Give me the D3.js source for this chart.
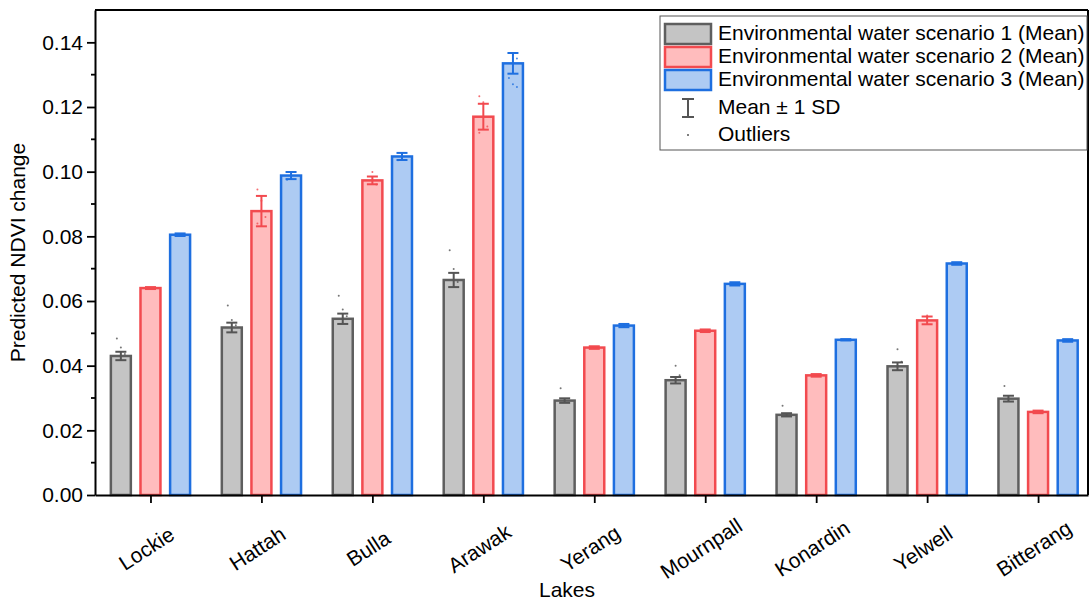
<!DOCTYPE html>
<html>
<head>
<meta charset="utf-8">
<script src="https://d3js.org/d3.v7.min.js"></script>
<style>
  body { margin: 0; background: #fff; font-family: 'Liberation Sans', Arial, sans-serif; }
  svg text { font-family: 'Liberation Sans', Arial, sans-serif; fill: #000; }
</style>
</head>
<body>
<svg id="chart" width="1090" height="604"></svg>
<script>
// lakes and the three scenario means
const lakes = ["Lockie", "Hattah", "Bulla", "Arawak", "Yerang", "Mournpall", "Konardin", "Yelwell", "Bitterang"];
const scenario1 = [0.0430, 0.0518, 0.0545, 0.0665, 0.0292, 0.0355, 0.0248, 0.0398, 0.0298];
const scenario2 = [0.0640, 0.0878, 0.0973, 0.1170, 0.0456, 0.0508, 0.0370, 0.0540, 0.0257];
const scenario3 = [0.0805, 0.0988, 0.1047, 0.1335, 0.0524, 0.0653, 0.0480, 0.0716, 0.0478];
// standard deviations
const sd1 = [0.0013, 0.0015, 0.0016, 0.0022, 0.0007, 0.0010, 0.0005, 0.0012, 0.0009];
const sd2 = [0.0003, 0.0047, 0.0012, 0.0040, 0.0004, 0.0004, 0.0004, 0.0012, 0.0004];
const sd3 = [0.0004, 0.0011, 0.0011, 0.0032, 0.0005, 0.0005, 0.0002, 0.0004, 0.0004];
// outlier points [lake index, value]
const outliers1 = [[0, 0.0484], [0, 0.0456], [0, 0.0436], [1, 0.0586], [1, 0.0541], [1, 0.0525],
  [2, 0.0616], [2, 0.0574], [2, 0.0553], [3, 0.0757], [3, 0.0699], [3, 0.0659],
  [4, 0.0330], [5, 0.0400], [5, 0.0370], [6, 0.0276], [7, 0.0451], [7, 0.0412], [8, 0.0337]];
const outliers2 = [[1, 0.0945], [1, 0.0910], [1, 0.0860], [1, 0.0840], [2, 0.0999], [2, 0.0960],
  [3, 0.1233], [3, 0.1215], [3, 0.1140], [3, 0.1120], [7, 0.0555]];
const outliers3 = [[1, 0.0975], [3, 0.1362], [3, 0.1350], [3, 0.1290], [3, 0.1270], [3, 0.1262], [2, 0.1035]];
const yTicks = [0, 0.02, 0.04, 0.06, 0.08, 0.10, 0.12, 0.14];
const yMinor = [0.01, 0.03, 0.05, 0.07, 0.09, 0.11, 0.13];
const seriesNames = ["Environmental water scenario 1 (Mean)", "Environmental water scenario 2 (Mean)", "Environmental water scenario 3 (Mean)"];

const width = 1090, height = 604;
const margin = { top: 10, right: 2, bottom: 109, left: 95 };
const fontSize = "21px";

const series = [
  { means: scenario1, sd: sd1, pts: outliers1, fill: "#c4c4c4", stroke: "#5e5e5e", err: "#555555" },
  { means: scenario2, sd: sd2, pts: outliers2, fill: "#ffbcbd", stroke: "#f24a4f", err: "#f24a4f" },
  { means: scenario3, sd: sd3, pts: outliers3, fill: "#adcbf3", stroke: "#1e6fe0", err: "#1e6fe0" }
];

const svg = d3.select("#chart");

const x = d3.scaleLinear()
  .domain([0.5, 9.45])
  .range([margin.left, width - margin.right]);

const y = d3.scaleLinear()
  .domain([0, 0.15])
  .range([height - margin.bottom, margin.top]);

const step = x(2) - x(1);
const barW = step * 0.18;
const offsets = [-0.267, 0, 0.267].map(o => o * step);

// bars, error bars, points
series.forEach((s, si) => {
  const g = svg.append("g");
  g.selectAll("rect")
    .data(s.means)
    .enter().append("rect")
    .attr("x", (d, i) => x(i + 1) + offsets[si] - barW / 2)
    .attr("y", d => y(d))
    .attr("width", barW)
    .attr("height", d => y(0) - y(d))
    .attr("fill", s.fill)
    .attr("stroke", s.stroke)
    .attr("stroke-width", 2.5);

  s.means.forEach((m, i) => {
    const cx = x(i + 1) + offsets[si];
    const lo = y(m - s.sd[i]), hi = y(m + s.sd[i]);
    g.append("line").attr("x1", cx).attr("x2", cx).attr("y1", lo).attr("y2", hi)
      .attr("stroke", s.err).attr("stroke-width", 2);
    [lo, hi].forEach(v => {
      g.append("line").attr("x1", cx - 5.5).attr("x2", cx + 5.5).attr("y1", v).attr("y2", v)
        .attr("stroke", s.err).attr("stroke-width", 2);
    });
  });

  g.selectAll("circle")
    .data(s.pts)
    .enter().append("circle")
    .attr("cx", (d, k) => x(d[0] + 1) + offsets[si] + ((k % 3) - 1) * 4)
    .attr("cy", d => y(d[1]))
    .attr("r", 1)
    .attr("fill", s.err)
    .attr("opacity", 0.8);
});

// y axis
const yAxis = svg.append("g")
  .attr("transform", `translate(${margin.left},0)`)
  .call(d3.axisLeft(y).tickValues(yTicks).tickFormat(d3.format(".2f")).tickSize(8).tickSizeOuter(0).tickPadding(4));
yAxis.select(".domain").attr("stroke-width", 2);
yAxis.selectAll(".tick line").attr("stroke-width", 1.8);
yAxis.selectAll("text").style("font-size", fontSize);

svg.append("g")
  .attr("transform", `translate(${margin.left},0)`)
  .selectAll("line")
  .data(yMinor)
  .enter().append("line")
  .attr("x1", -4).attr("x2", 0)
  .attr("y1", d => y(d)).attr("y2", d => y(d))
  .attr("stroke", "#000").attr("stroke-width", 1.8);

// x axis
const xAxis = svg.append("g")
  .attr("transform", `translate(0,${y(0)})`)
  .call(d3.axisBottom(x).tickValues(d3.range(1, 10)).tickFormat("").tickSize(8).tickSizeOuter(0));
xAxis.select(".domain").attr("stroke-width", 2);
xAxis.selectAll(".tick line").attr("stroke-width", 1.8);

svg.append("g")
  .selectAll("text")
  .data(lakes)
  .enter().append("text")
  .attr("transform", (d, i) => `translate(${x(i + 1) - 3},${y(0) + 55}) rotate(-33)`)
  .attr("text-anchor", "middle")
  .attr("dominant-baseline", "middle")
  .style("font-size", fontSize)
  .text(d => d);

// frame top and right
svg.append("line")
  .attr("x1", margin.left).attr("x2", width - margin.right)
  .attr("y1", margin.top).attr("y2", margin.top)
  .attr("stroke", "#000").attr("stroke-width", 2);
svg.append("line")
  .attr("x1", width - margin.right).attr("x2", width - margin.right)
  .attr("y1", margin.top).attr("y2", y(0))
  .attr("stroke", "#000").attr("stroke-width", 2);

// axis titles
svg.append("text")
  .attr("x", 567).attr("y", 597)
  .attr("text-anchor", "middle")
  .style("font-size", fontSize)
  .text("Lakes");
svg.append("text")
  .attr("transform", `translate(25,${(margin.top + y(0)) / 2}) rotate(-90)`)
  .attr("text-anchor", "middle")
  .style("font-size", fontSize)
  .text("Predicted NDVI change");

// legend
const legend = svg.append("g").attr("transform", "translate(660,16)");
legend.append("rect")
  .attr("x", 0).attr("y", 0).attr("width", 427).attr("height", 134)
  .attr("fill", "#fff").attr("stroke", "#555").attr("stroke-width", 1);

const rowY = [18, 41, 64, 92, 119];
series.forEach((s, i) => {
  legend.append("rect")
    .attr("x", 5).attr("y", rowY[i] - 10).attr("width", 46).attr("height", 20)
    .attr("fill", s.fill).attr("stroke", s.stroke).attr("stroke-width", 2.5);
  legend.append("text")
    .attr("x", 58).attr("y", rowY[i])
    .attr("dominant-baseline", "middle")
    .style("font-size", fontSize)
    .text(seriesNames[i]);
});
legend.append("line").attr("x1", 28).attr("x2", 28).attr("y1", rowY[3] - 9).attr("y2", rowY[3] + 9)
  .attr("stroke", "#555").attr("stroke-width", 2);
[rowY[3] - 9, rowY[3] + 9].forEach(v => {
  legend.append("line").attr("x1", 22).attr("x2", 34).attr("y1", v).attr("y2", v)
    .attr("stroke", "#555").attr("stroke-width", 2);
});
legend.append("text").attr("x", 58).attr("y", rowY[3]).attr("dominant-baseline", "middle")
  .style("font-size", fontSize).text("Mean ± 1 SD");
legend.append("circle").attr("cx", 28).attr("cy", rowY[4]).attr("r", 1).attr("fill", "#555");
legend.append("text").attr("x", 58).attr("y", rowY[4]).attr("dominant-baseline", "middle")
  .style("font-size", fontSize).text("Outliers");
</script>
</body>
</html>
